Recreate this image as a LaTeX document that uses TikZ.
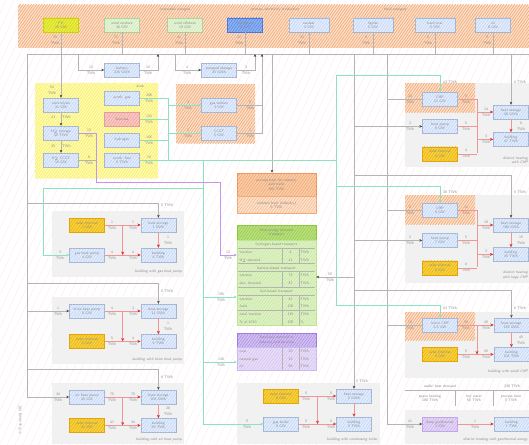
\documentclass[tikz,border=0pt]{standalone}
\usepackage[table]{xcolor}
\usepackage{array}
\usepackage{tikz}
\usetikzlibrary{arrows.meta, positioning, calc, patterns.meta}
\definecolor{txtgray}{RGB}{140,140,140}
\definecolor{wiregray}{RGB}{180,180,180}
\definecolor{wireteal}{RGB}{140,225,195}
\definecolor{wirepurple}{RGB}{195,150,235}
\definecolor{wirered}{RGB}{240,150,150}
\definecolor{tipred}{RGB}{225,50,50}
\definecolor{tipdark}{RGB}{70,70,70}
\definecolor{orgfill}{RGB}{252,226,205}
\definecolor{orghatch}{RGB}{243,170,120}
\definecolor{procfill}{RGB}{249,205,168}
\definecolor{prochatch}{RGB}{240,150,95}
\definecolor{yelfill}{RGB}{255,252,185}
\definecolor{yelhatch}{RGB}{248,238,100}
\definecolor{panelgray}{RGB}{241,241,241}
\definecolor{bluefill}{RGB}{226,236,252}
\definecolor{bluehatch}{RGB}{180,205,245}
\definecolor{blueline}{RGB}{165,180,205}
\definecolor{solarfill}{RGB}{248,210,60}
\definecolor{solarhatch}{RGB}{225,165,10}
\definecolor{pvfill}{RGB}{232,236,70}
\definecolor{pvhatch}{RGB}{205,210,0}
\definecolor{windfill}{RGB}{228,244,214}
\definecolor{windhatch}{RGB}{200,230,175}
\definecolor{windline}{RGB}{175,205,155}
\definecolor{hydrofill}{RGB}{140,178,242}
\definecolor{hydrohatch}{RGB}{70,120,225}
\definecolor{biofill}{RGB}{250,200,195}
\definecolor{biohatch}{RGB}{238,150,145}
\definecolor{biodraw}{RGB}{220,160,160}
\definecolor{geofill}{RGB}{228,214,247}
\definecolor{geohatch}{RGB}{195,165,235}
\definecolor{transfill}{RGB}{222,242,196}
\definecolor{transhatch}{RGB}{190,228,150}
\definecolor{transhdr}{RGB}{185,222,125}
\definecolor{transhdrhatch}{RGB}{140,200,60}
\definecolor{fuelfill}{RGB}{232,222,248}
\definecolor{fuelhatch}{RGB}{205,185,240}
\definecolor{fuelhdr}{RGB}{210,192,242}
\definecolor{fuelhdrhatch}{RGB}{160,125,220}
\newcommand{\tinyfont}{\fontsize{3.7}{4.3}\selectfont\sffamily}
\newcommand{\lblfont}{\fontsize{3.7}{6.2}\selectfont\sffamily}
\tikzset{
  tile/.style n args={3}{rectangle, draw=#1, fill=#2, inner sep=.5pt,
    font=\tinyfont, text=txtgray, line width=.4pt,
    postaction={pattern={Lines[angle=55,distance=2.3pt,line width=.35pt]},
      pattern color=#3}},
  unitbox/.style n args={3}{tile={#1}{#2}{#3}, minimum width=35pt,
    minimum height=14pt, align=center},
  box/.style={unitbox={blueline}{bluefill}{bluehatch}},
  solarbox/.style={unitbox={solarhatch}{solarfill}{solarhatch}},
  pvbox/.style={unitbox={pvhatch}{pvfill}{pvhatch}},
  windbox/.style={unitbox={windline}{windfill}{windhatch}},
  hydrobox/.style={unitbox={hydrohatch}{hydrofill}{hydrohatch}},
  biobox/.style={unitbox={biodraw}{biofill}{biohatch}},
  geobox/.style={unitbox={geohatch}{geofill}{geohatch}},
  region/.style 2 args={preaction={fill=#1},
    pattern={Lines[angle=55,distance=2.2pt,line width=.7pt]}, pattern color=#2},
  panel/.style={fill=panelgray},
  lbl/.style={font=\lblfont, text=txtgray, align=center, inner sep=0pt},
  note/.style={font=\tinyfont\itshape, text=txtgray, inner sep=0pt},
  cell/.style={font=\tinyfont, text=txtgray, align=center, inner sep=0pt},
  wire/.style={draw=wiregray, line width=.45pt},
  feed/.style={wire, -{Stealth[length=3pt,width=2.6pt,color=tipdark]}},
  tealwire/.style={draw=wireteal, line width=.5pt},
  tealfeed/.style={tealwire, -{Stealth[length=3pt,width=2.6pt]}},
  htwo/.style={draw=wirepurple, line width=.5pt},
  htwofeed/.style={htwo, -{Stealth[length=3pt,width=2.6pt]}},
  heat/.style={draw=wirered, line width=.45pt},
  heatfeed/.style={heat, -{Stealth[length=3.4pt,width=3pt,color=tipred]}}
}

\begin{document}
\begin{tikzpicture}[x=1pt, y=-1pt, node distance=13pt and 36pt]
  \useasboundingbox (0,0) rectangle (529,444);
  \path[fill=white] (0,0) rectangle (529,444);
  \path[pattern={Lines[angle=65,distance=7pt,line width=.35pt]}, pattern color=red!9] (0,0) rectangle (529,444);

  \path[region={orgfill}{orghatch}] (18,5) rectangle (529,48);
  \path[region={yelfill}{yelhatch}] (35,83) rectangle (158,178);
  \path[region={orgfill}{orghatch}] (176,84) rectangle (255,143);
  \path[panel] (52,211) rectangle (184,277);
  \path[panel] (52,297) rectangle (184,364);
  \path[panel] (52,383) rectangle (184,444);
  \path[panel] (237,383) rectangle (380,444);
  \path[panel] (405,83) rectangle (529,167);
  \path[region={orgfill}{orghatch}] (405,83) rectangle (475,112);
  \path[panel] (405,195) rectangle (529,283);
  \path[region={orgfill}{orghatch}] (405,195) rectangle (475,224);
  \path[panel] (405,312) rectangle (529,378);
  \path[region={orgfill}{orghatch}] (405,312) rectangle (475,340);
  \path[panel] (405,410) rectangle (529,444);

  % supply
  \node[note] (renew) at (175,10) {renewable energies};
  \node[note] (prim) at (275,10) {primary electricity production};
  \node[note] (fossil) at (395,10) {fossil energies};
  \node[pvbox] (pv) at (61,25) {PV\\25 GW};
  \node[windbox] (won) at (122,25) {wind onshore\\36 GW};
  \node[windbox] (woff) at (185,25) {wind offshore\\10 GW};
  \node[hydrobox] (hydro) at (245,25) {hydropower\\5 GW};
  \node[box, minimum width=40pt] (nuc) at (309,25) {nuclear\\4 GW};
  \node[box, minimum width=40pt] (lig) at (373,25) {lignite\\5 GW};
  \node[box, minimum width=40pt] (coal) at (435,25) {hard coal\\5 GW};
  \node[box] (oil) at (493,25) {oil\\8 GW};
  \node[lbl] (pvl) at (55,40) {29\\TWh};
  \node[lbl] (wonl) at (116,40) {71\\TWh};
  \node[lbl] (woffl) at (179,40) {41\\TWh};
  \node[lbl] (hydrol) at (239,40) {21\\TWh};
  \node[lbl] (nucl) at (302,40) {32\\TWh};
  \node[lbl] (ligl) at (366,40) {6\\TWh};
  \node[lbl] (coall) at (428,40) {0\\TWh};
  \node[lbl] (oill) at (487,40) {0\\TWh};

  % storage and conversion
  \node[box] (batt) at (122,70) {battery\\226 GWh};
  \node[box] (pump) at (219,70) {pumped storage\\25 GWh};
  \node[lbl] (battinl) at (91,70) {12\\TWh};
  \node[lbl] (battoutl) at (148,70) {10\\TWh};
  \node[lbl] (pumpinl) at (187,70) {4\\TWh};
  \node[lbl] (pumpoutl) at (246,70) {3\\TWh};
  \node[box] (elec) at (61,105) {electrolysis\\41 GW};
  \node[box] (htank) at (61,133) {H$_2$ storage\\40 TWh};
  \node[box] (hccgt) at (61,160) {H$_2$ CCGT\\10 GW};
  \node[lbl] (elecin) at (52,90) {52\\TWh};
  \node[lbl] (elecout) at (61,117) {41\hspace{7pt}TWh};
  \node[lbl] (htankout) at (61,146) {25\hspace{7pt}TWh};
  \node[lbl] (htankl) at (89,133) {12\\TWh};
  \node[lbl] (hccgtl) at (89,160) {8\\TWh};
  \node[note] (fuelsl) at (140,86) {fuels};
  \node[box] (sgas) at (122,98) {synth. gas};
  \node[biobox] (bio) at (122,119) {biomass};
  \node[box] (hgas) at (122,140) {hydrogen};
  \node[box] (sfuel) at (122,160) {synth. fuel\\9 TWh};
  \node[lbl] (sgasl) at (149,98) {268\\TWh};
  \node[lbl] (biol) at (149,119) {123\\TWh};
  \node[lbl] (hgasl) at (149,140) {165\\TWh};
  \node[lbl] (sfuell) at (149,160) {19\\TWh};
  \node[box] (gt) at (219,105) {gas turbine\\3 GW};
  \node[box] (ccgt) at (219,133) {CCGT\\5 GW};
  \node[lbl] (gtin) at (188,105) {3\\TWh};
  \node[lbl] (ccgtin) at (188,133) {1\\TWh};
  \node[lbl] (gtout) at (250,105) {0\\TWh};
  \node[lbl] (ccgtout) at (250,133) {1\\TWh};

  % demand
  \node[unitbox={prochatch}{procfill}{prochatch}, minimum width=79pt, minimum height=23pt] (proc) at (276.5,184.5) {process heat for industry\\and trade\\366 TWh};
  \node[unitbox={orghatch}{orgfill}{orghatch}, minimum width=79pt, minimum height=17pt, anchor=north] (amb) at (proc.south) {ambient heat (industry)\\6 TWh};
  \node[unitbox={transhdrhatch}{transhdr}{transhdrhatch}, minimum width=79pt, minimum height=15pt] (transhead) at (276.5,232.5) {final energy demand\\transport};
  \node[tile={transhatch}{transfill}{transhatch}, minimum width=79pt, inner sep=0pt, anchor=north] (trans) at (transhead.south) {\arrayrulecolor{wiregray}\renewcommand{\arraystretch}{1.75}\setlength{\tabcolsep}{1.5pt}%
    \begin{tabular}{@{\hspace{2pt}}p{41pt}|>{\centering\arraybackslash}p{13pt}|p{15pt}@{}}
      \multicolumn{3}{c}{hydrogen-based transport}\\\hline
      traction & 4 & TWh\\
      H$_2$ demand & 12 & TWh\\\hline
      \multicolumn{3}{c}{battery-based transport}\\\hline
      traction & 73 & TWh\\
      elec.\ demand & 87 & TWh\\\hline
      \multicolumn{3}{c}{fuel-based transport}\\\hline
      traction & 42 & TWh\\
      fuels & 106 & TWh\\\hline
      total traction & 119 & TWh\\
      \% of 2010 & 100 & \%
    \end{tabular}};
  \node[unitbox={fuelhdrhatch}{fuelhdr}{fuelhdrhatch}, minimum width=79pt, minimum height=14pt] (indhead) at (276.5,340) {fossil fuel demand in\\industry and services};
  \node[tile={fuelhatch}{fuelfill}{fuelhatch}, minimum width=79pt, inner sep=0pt, anchor=north] (ind) at (indhead.south) {\arrayrulecolor{wiregray}\renewcommand{\arraystretch}{1.75}\setlength{\tabcolsep}{1.5pt}%
    \begin{tabular}{@{\hspace{2pt}}p{41pt}|>{\centering\arraybackslash}p{13pt}|p{15pt}@{}}
      coal & 20 & TWh\\
      natural gas & 22 & TWh\\
      oil & 86 & TWh
    \end{tabular}};
  \node[lbl] (trhl) at (228,255) {12\\TWh};
  \node[lbl] (trfl) at (221,297) {106\\TWh};
  \node[lbl] (indfl) at (221,362) {128\\TWh};
  \node[lbl] (trel) at (330,277) {50\\TWh};

  % district heating with CHP
  \node[box] (chpA) at (440,99) {CHP\\11 GW};
  \node[box, below=of chpA] (hpA) {heat pump\\9 GW};
  \node[solarbox, below=of hpA] (solA) {solar thermal\\4 GW};
  \node[box] (storA) at (511,112) {heat storage\\48 GWh};
  \node[box, below=of storA] (bldA) {building\\47 TWh};
  \node[lbl] (chpAin) at (410,99) {22\\TWh};
  \node[lbl] (chpAout) at (466,99) {9\\TWh};
  \node[lbl] (hpAin) at (410,126) {2\\TWh};
  \node[lbl] (hpAout) at (466,126) {5\\TWh};
  \node[lbl] (solAout) at (466,153) {4\\TWh};
  \node[lbl] (storAin) at (486,112) {14\\TWh};
  \node[lbl] (bldAin) at (486,139) {3\\TWh};
  \node[lbl] (storAout) at (521,126) {6\\TWh};
  \node[lbl, anchor=west] (chpAfuel) at (443,82) {43 TWh};
  \node[lbl, anchor=west] (storAel) at (514,82) {6 TWh};
  \node[note, anchor=east, align=right] (capA) at (528,160) {district heating\\with CHP};

  % district heating with large CHP
  \node[box] (chpB) at (440,210) {CHP\\9 GW};
  \node[box, below=16pt of chpB] (hpB) {heat pump\\7 GW};
  \node[solarbox, below=of hpB] (solB) {solar thermal\\6 GW};
  \node[box] (storB) at (511,225) {heat storage\\186 GWh};
  \node[box, below=15pt of storB] (bldB) {building\\45 TWh};
  \node[lbl] (chpBin) at (410,210) {8\\TWh};
  \node[lbl] (chpBout) at (466,210) {31\\TWh};
  \node[lbl] (hpBin) at (410,240) {2\\TWh};
  \node[lbl] (hpBout) at (466,240) {5\\TWh};
  \node[lbl] (solBout) at (466,267) {6\\TWh};
  \node[lbl] (storBin) at (486,225) {18\\TWh};
  \node[lbl] (bldBin) at (486,254) {3\\TWh};
  \node[lbl] (storBout) at (521,240) {15\\TWh};
  \node[lbl, anchor=west] (chpBfuel) at (443,192) {38 TWh};
  \node[lbl, anchor=west] (storBel) at (514,192) {6 TWh};
  \node[note, anchor=east, align=right] (capB) at (528,275) {district heating\\with large CHP};

  % building with small CHP
  \node[box] (chpC) at (440,325) {micro CHP\\3.3 GW};
  \node[solarbox, below=15pt of chpC] (solC) {solar thermal\\5 GW};
  \node[box, right=of chpC] (storC) {heat storage\\158 GWh};
  \node[box, below=15pt of storC] (bldC) {building\\106 TWh};
  \node[lbl] (chpCin) at (410,325) {10\\TWh};
  \node[lbl] (chpCout) at (466,325) {30\\TWh};
  \node[lbl] (storCin) at (486,325) {40\\TWh};
  \node[lbl] (solCout) at (466,354) {5\\TWh};
  \node[lbl] (bldCin) at (486,354) {45\\TWh};
  \node[lbl] (storCout) at (521,340) {45\\TWh};
  \node[lbl, anchor=west] (chpCfuel) at (443,308) {63 TWh};
  \node[lbl, anchor=west] (storCel) at (514,308) {6 TWh};
  \node[note, anchor=east] (capC) at (528,372) {building with small CHP};

  \node[cell] (uhd) at (440,386) {useful heat demand};
  \node[cell] (uhdsum) at (512,386) {238 TWh};
  \node[cell] (space) at (430,398) {space heating\\188 TWh};
  \node[cell] (water) at (474,398) {hot water\\50 TWh};
  \node[cell] (procw) at (511,398) {process heat\\0 TWh};

  % district heating with geothermal energy
  \node[geobox] (geo) at (440,424) {deep geothermal\\1 GW};
  \node[box, right=of geo] (bldD) {building\\1 TWh};
  \node[lbl] (geoin) at (410,424) {41\\TWh};
  \node[lbl] (geoout) at (475,424) {1\\TWh};
  \node[note, anchor=east] (capD) at (528,440) {district heating with geothermal energy};

  % buildings with heat pumps
  \node[solarbox] (solL1) at (87,225) {solar thermal\\1 GW};
  \node[box, right=of solL1] (storL1) {heat storage\\1 GWh};
  \node[box] (gashp) at (87,255) {gas heat pump\\4 GW};
  \node[box, right=of gashp] (bldL1) {building\\6 TWh};
  \node[lbl] (solL1a) at (112,225) {1\\TWh};
  \node[lbl] (solL1b) at (133,225) {1\\TWh};
  \node[lbl] (gashpa) at (112,255) {4\\TWh};
  \node[lbl] (gashpb) at (133,255) {4\\TWh};
  \node[lbl] (storL1o) at (168,240) {1\\TWh};
  \node[lbl] (gashpin) at (60,255) {3\\TWh};
  \node[lbl, anchor=west] (storL1el) at (161,205) {0 TWh};
  \node[note, anchor=east] (capL1) at (182,272) {building with gas heat pump};

  \node[box] (brine) at (87,311) {brine heat pump\\8 GW};
  \node[box, right=of brine] (storL2) {heat storage\\11 GWh};
  \node[solarbox, below=16pt of brine] (solL2) {solar thermal\\5 GW};
  \node[box, right=of solL2] (bldL2) {building\\9 TWh};
  \node[lbl] (brinea) at (112,311) {4\\TWh};
  \node[lbl] (brineb) at (133,311) {3\\TWh};
  \node[lbl] (solL2a) at (112,341) {5\\TWh};
  \node[lbl] (solL2b) at (133,341) {4\\TWh};
  \node[lbl] (storL2o) at (168,326) {1\\TWh};
  \node[lbl] (brinein) at (58,311) {1\\TWh};
  \node[lbl, anchor=west] (storL2el) at (161,291) {0 TWh};
  \node[note, anchor=east] (capL2) at (182,360) {building with brine heat pump};

  \node[box] (airhp) at (87,397) {air heat pump\\45 GW};
  \node[box, right=of airhp] (storL3) {heat storage\\205 GWh};
  \node[solarbox, below=14pt of airhp] (solL3) {solar thermal\\41 GW};
  \node[box, right=of solL3] (bldL3) {building\\96 TWh};
  \node[lbl] (airhpa) at (112,397) {75\\TWh};
  \node[lbl] (airhpb) at (133,397) {70\\TWh};
  \node[lbl] (solL3a) at (112,425) {41\\TWh};
  \node[lbl] (solL3b) at (133,425) {34\\TWh};
  \node[lbl] (storL3o) at (168,411) {28\\TWh};
  \node[lbl] (airhpin) at (58,397) {34\\TWh};
  \node[lbl, anchor=west] (storL3el) at (161,377) {6 TWh};
  \node[note, anchor=east] (capL3) at (182,440) {building with air heat pump};

  % building with condensing boiler
  \node[solarbox] (solM) at (281,396) {solar thermal\\0 GW};
  \node[box] (boiler) at (281,424) {gas boiler\\0 GW};
  \node[box] (storM) at (354,396) {heat storage\\0 GWh};
  \node[box] (bldM) at (354,424) {building\\0 TWh};
  \node[lbl] (solMa) at (306,396) {0\\TWh};
  \node[lbl] (solMb) at (331,396) {0\\TWh};
  \node[lbl] (boilera) at (306,424) {0\\TWh};
  \node[lbl] (boilerb) at (331,424) {0\\TWh};
  \node[lbl] (boilerin) at (247,424) {0\\TWh};
  \node[lbl, anchor=west] (storMel) at (356,381) {0 TWh};
  \node[note, anchor=east] (capM) at (378,440) {building with condensing boiler};

  \node[note, rotate=90] (copy) at (20,420) {\copyright\ Fraunhofer ISE};

  % electricity grid
  \coordinate (busw) at (27,54);
  \coordinate (buse) at (529,54);
  \coordinate (lbus) at (27,397);
  \draw[wire] (busw) -- (buse);
  \draw[wire] (busw) -- (lbus);
  \foreach \n in {won,woff,hydro,nuc,lig,coal,oil}
    \draw[wire] (\n) -- (\n |- busw);
  \draw[feed] (pv) -- (elec);
  \draw[feed] (elec) -- (htank);
  \draw[feed] (htank) -- (hccgt);
  \coordinate (battin) at (78,54);
  \coordinate (battout) at (158,54);
  \coordinate (pumpin) at (175,54);
  \coordinate (pumpout) at (255,54);
  \draw[feed] (battin) |- (batt);
  \draw[feed] (batt) -| (battout);
  \draw[feed] (pumpin) |- (pump);
  \draw[feed] (pump) -| (pumpout);
  \coordinate (gtbus) at (262,54);
  \draw[wire] (gt) -| (gtbus);
  \draw[feed] (ccgt) -| (gtbus);
  \coordinate (proctop) at (272,54);
  \draw[feed] (proctop) -- (proctop |- proc.north);
  \coordinate (xAtop) at (354,54);
  \coordinate (xBtop) at (387,54);
  \draw[feed] (xAtop) -- (storM);
  \draw[feed] (xBtop) |- (geo);
  \foreach \n in {chpA,chpB,chpC}
    \draw[wire] (\n) -- (\n -| xBtop);
  \foreach \n in {hpA,hpB}
    \draw[feed] (\n -| xAtop) -- (\n);
  \coordinate (stAsup) at (511,54);
  \coordinate (stBsup) at (354,175);
  \coordinate (stCsup) at (354,290);
  \coordinate (trsup) at (354,277);
  \draw[feed] (stAsup) -- (storA);
  \draw[feed] (stBsup) -| (storB);
  \draw[feed] (stCsup) -| (storC);
  \draw[feed] (trsup) -- (trsup -| trans.east);
  \coordinate (stL1sup) at (27,203);
  \coordinate (stL2sup) at (27,283);
  \coordinate (stL3sup) at (27,369);
  \draw[feed] (stL1sup) -| (storL1);
  \draw[feed] (stL2sup) -| (storL2);
  \draw[feed] (stL3sup) -| (storL3);
  \draw[feed] (brine -| lbus) -- (brine);
  \draw[feed] (lbus) -- (airhp);

  % fuels
  \coordinate (fuelbus) at (168,98);
  \coordinate (fuelbot) at (168,160);
  \draw[tealwire] (fuelbus) -- (fuelbot);
  \foreach \n in {sgas,bio,hgas,sfuel}
    \draw[tealwire] (\n) -- (\n -| fuelbus);
  \draw[tealfeed] (gt -| fuelbus) -- (gt);
  \draw[tealfeed] (ccgt -| fuelbus) -- (ccgt);
  \coordinate (chpfeed) at (336,160);
  \coordinate (chptop) at (336,75);
  \coordinate (chpBfeed) at (336,186);
  \coordinate (chpbot) at (336,305);
  \draw[tealwire] (fuelbot) -- (chpfeed);
  \draw[tealwire] (chptop) -- (chpbot);
  \draw[tealfeed] (chptop) -| (chpA);
  \draw[tealfeed] (chpBfeed) -| (chpB);
  \draw[tealfeed] (chpbot) -| (chpC);
  \coordinate (mid) at (203,160);
  \coordinate (midbot) at (203,424);
  \coordinate (trfuel) at (203,297);
  \coordinate (indfuel) at (203,362);
  \coordinate (hpfeed) at (203,188);
  \coordinate (hpcorner) at (43,188);
  \draw[tealwire] (mid) -- (midbot);
  \draw[tealfeed] (trfuel) -- (trfuel -| trans.west);
  \draw[tealfeed] (indfuel) -- (indfuel -| ind.west);
  \draw[tealfeed] (midbot) -- (boiler);
  \draw[tealwire] (hpfeed) -- (hpcorner);
  \draw[tealfeed] (hpcorner) |- (gashp);

  % hydrogen
  \coordinate (hp1) at (96,133);
  \coordinate (hp2) at (96,182);
  \coordinate (hp3) at (220,182);
  \coordinate (hp4) at (220,255);
  \draw[htwo] (htank) -- (hp1) -- (hp2) -- (hp3) -- (hp4);
  \draw[htwofeed] (hp4) -- (hp4 -| trans.west);
  \draw[wire] (hccgt) -- (hccgt -| hp1);

  % heat
  \coordinate (hbA) at (477,99);
  \coordinate (hbAbot) at (477,153);
  \draw[heat] (chpA) -- (hbA) -- (hbAbot);
  \draw[heat] (hpA) -- (hpA -| hbA);
  \draw[heat] (solA) -- (solA -| hbA);
  \draw[heatfeed] (storA -| hbA) -- (storA);
  \draw[heatfeed] (bldA -| hbA) -- (bldA);
  \draw[heatfeed] (storA) -- (bldA);
  \coordinate (hbB) at (477,210);
  \coordinate (hbBbot) at (477,267);
  \draw[heat] (chpB) -- (hbB) -- (hbBbot);
  \draw[heat] (hpB) -- (hpB -| hbB);
  \draw[heat] (solB) -- (solB -| hbB);
  \draw[heatfeed] (storB -| hbB) -- (storB);
  \draw[heatfeed] (bldB -| hbB) -- (bldB);
  \draw[heatfeed] (storB) -- (bldB);
  \coordinate (hbC) at (477,325);
  \draw[heatfeed] (chpC) -- (storC);
  \draw[heatfeed] (solC) -- (bldC);
  \draw[heatfeed] (hbC) -- (hbC |- bldC);
  \draw[heatfeed] (storC) -- (bldC);
  \draw[heatfeed] (geo) -- (bldD);
  \foreach \s/\b/\l/\r in {solL1/storL1/gashp/bldL1, brine/storL2/solL2/bldL2, airhp/storL3/solL3/bldL3, solM/storM/boiler/bldM} {
    \draw[heatfeed] (\s) -- (\b);
    \draw[heatfeed] (\l) -- (\r);
    \draw[heatfeed] (\b) -- (\r);
    \draw[heatfeed] ($(\s.east)!.5!(\b.west)$) -- ($(\l.east)!.5!(\r.west)$);
  }

  \coordinate (uhdw) at (405,390);
  \coordinate (uhde) at (529,390);
  \coordinate (sep1) at (455,390);
  \coordinate (sep2) at (493,390);
  \draw[wire] (uhdw) -- (uhde);
  \draw[wire] (sep1) -- ++(0,16);
  \draw[wire] (sep2) -- ++(0,16);
\end{tikzpicture}
\end{document}
